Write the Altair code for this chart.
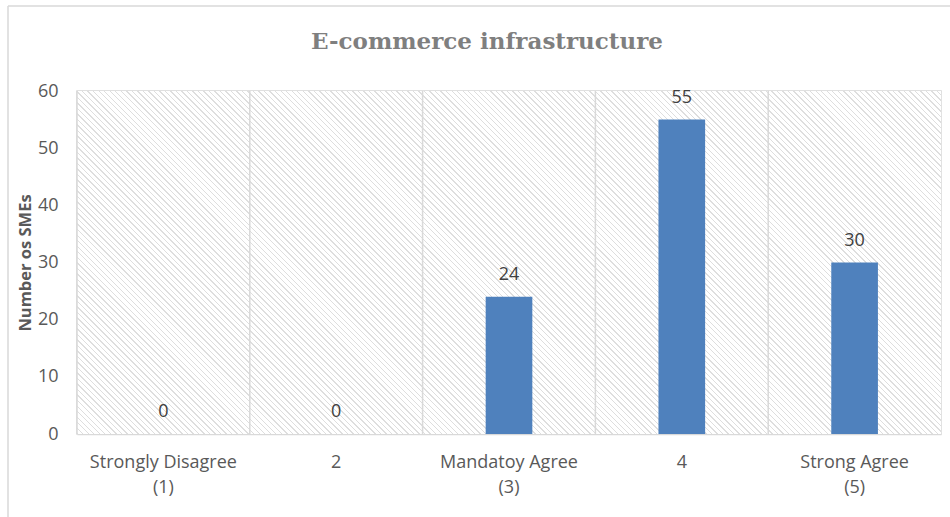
import math
import altair as alt
import pandas as pd

# ---- data ----
categories = ["Strongly Disagree|(1)", "2", "Mandatoy Agree|(3)", "4", "Strong Agree|(5)"]
values = [0, 0, 24, 55, 30]
y_ticks = [0, 10, 20, 30, 40, 50, 60]

df = pd.DataFrame({"cat": categories, "value": values})

W, H = 864, 343
PAD_L, PAD_T, PAD_R, PAD_B = 77, 91, 9, 83

GRID = "#d9d9d9"
TEXT = "#595959"
BAR = "#4F81BD"
FONT = "Open Sans"

# ---- hatch background as a striped linear gradient ----
HATCH_LINE = "#dedede"
HATCH_BG = "#ffffff"
period = 3.9
lw = 1.0
D = (W + H) / math.sqrt(2)
s = (W + H) / (W * W + H * H)
stops = []
k = 0
while k * period < D:
    a = min(k * period / D, 1)
    b = min((k * period + lw) / D, 1)
    c = min((k + 1) * period / D, 1)
    stops += [
        alt.GradientStop(offset=a, color=HATCH_LINE),
        alt.GradientStop(offset=b, color=HATCH_LINE),
        alt.GradientStop(offset=b, color=HATCH_BG),
        alt.GradientStop(offset=c, color=HATCH_BG),
    ]
    k += 1
hatch = alt.LinearGradient(gradient="linear", x1=0, y1=1, x2=s * W, y2=1 - s * H, stops=stops)

bg = alt.Chart(alt.Data(values=[{"k": 1}])).mark_rect(fill=hatch, strokeWidth=0).encode(
    x=alt.value(0), x2=alt.value(W), y=alt.value(0), y2=alt.value(H)
)

x_enc = alt.X(
    "cat:N",
    sort=categories,
    scale=alt.Scale(paddingInner=0, paddingOuter=0),
    axis=alt.Axis(
        title=None,
        labelExpr="split(datum.value, '|')",
        labelAngle=0,
        labelFont=FONT,
        labelFontSize=18,
        labelColor=TEXT,
        labelPadding=19,
        labelLineHeight=25,
        ticks=False,
        domain=False,
        grid=False,
    ),
)

y_enc = alt.Y(
    "value:Q",
    scale=alt.Scale(domain=[0, 60]),
    axis=alt.Axis(
        values=y_ticks,
        title="Number os SMEs",
        titleFont=FONT,
        titleFontSize=16.5,
        titleFontWeight="bold",
        titleColor=TEXT,
        titleX=-52,
        titleY=H / 2,
        titleAngle=-90,
        titleBaseline="middle",
        titleAlign="center",
        labelFont=FONT,
        labelFontSize=18,
        labelColor=TEXT,
        labelPadding=19,
        ticks=False,
        domain=False,
        grid=True,
        gridColor=GRID,
        gridWidth=1.5,
    ),
)

base = alt.Chart(df)

seps = base.mark_rule(color=GRID, strokeWidth=1.5).encode(
    x=alt.X("cat:N", sort=categories, bandPosition=0)
)

bars = base.mark_bar(color=BAR, width=alt.RelativeBandSize(0.27)).encode(x=x_enc, y=y_enc)

labels = base.mark_text(
    font=FONT, fontSize=18, color="#404040", dy=-22, baseline="middle"
).encode(x=alt.X("cat:N", sort=categories), y="value:Q", text="value:Q")

frame_top = alt.Chart(alt.Data(values=[{"k": 1}])).mark_rule(color=GRID, strokeWidth=1.5).encode(
    x=alt.value(-69), x2=alt.value(W + PAD_R + 10), y=alt.value(-85)
)
frame_left = alt.Chart(alt.Data(values=[{"k": 1}])).mark_rule(color=GRID, strokeWidth=1.5).encode(
    x=alt.value(-69), y=alt.value(-85), y2=alt.value(H + PAD_B + 10)
)

chart = (
    alt.layer(bg, bars, seps, labels, frame_top, frame_left)
    .properties(
        width=W,
        height=H,
        autosize=alt.AutoSizeParams(type="none"),
        padding={"left": PAD_L, "top": PAD_T, "right": PAD_R, "bottom": PAD_B},
        background="white",
        title=alt.TitleParams(
            "E-commerce infrastructure",
            font="DejaVu Serif",
            fontSize=23,
            fontWeight="bold",
            color="#7f7f7f",
            anchor="middle",
            baseline="alphabetic",
            dx=-22,
            offset=-67,
        ),
    )
    .configure_view(stroke=GRID, strokeWidth=1.5)
)

chart.save("out.html", embed_options={"renderer": "svg", "actions": False})
